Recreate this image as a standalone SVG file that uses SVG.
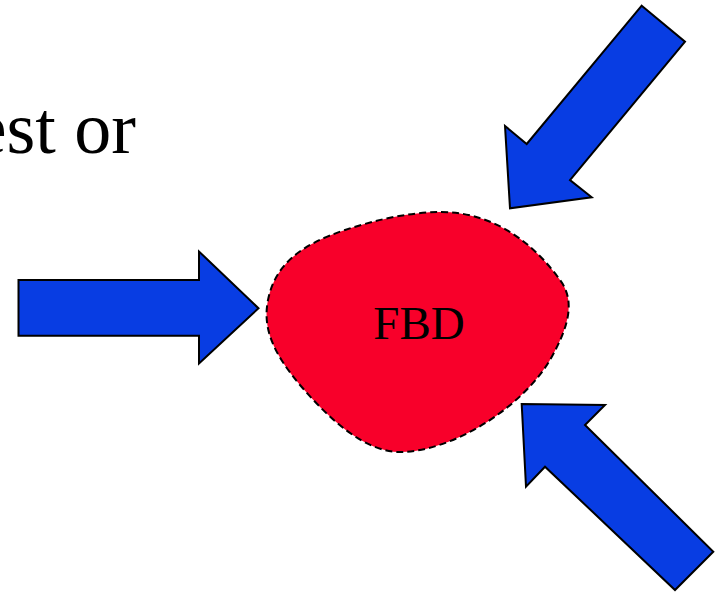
<svg xmlns="http://www.w3.org/2000/svg" width="722" height="593" viewBox="0 0 722 593">
<style>
.arrow{fill:#083de3;stroke:#000;stroke-width:2;stroke-linejoin:miter}
.blob{fill:#f8002a;stroke:#000;stroke-width:2;stroke-dasharray:7 4}
.t{font-family:"Liberation Serif","Times New Roman",serif;fill:#000}
</style>
<rect width="722" height="593" fill="#fff"/>
<text class="t" x="136" y="153" font-size="74" text-anchor="end">est or</text>
<g id="fbd">
<path class="blob" d="M441,212 C495,212 535,245 560,280 C575,300 570,325 550,360 C520,410 450,452 400,452 C365,452 330,420 300,385 C275,355 262,330 268,300 C275,265 300,245 345,230 C375,220 410,212 441,212 Z"/>
<text class="t" x="419" y="339" font-size="47" text-anchor="middle">FBD</text>
</g>
<g id="connectors">
<polygon id="arrow-left" class="arrow" points="18.5,280 199,280 199,251.5 258.5,308.3 199,363.5 199,335.7 18.5,335.7"/>
<polygon id="arrow-top" class="arrow" points="641.7,5.7 685,41.7 570,180 591.7,197.3 510,208.3 505,126 526.7,144"/>
<polygon id="arrow-bottom" class="arrow" points="521.7,404 605,405 585,425 713.3,551.7 675,590 545,466.7 526,486.7"/>
</g>
</svg>
